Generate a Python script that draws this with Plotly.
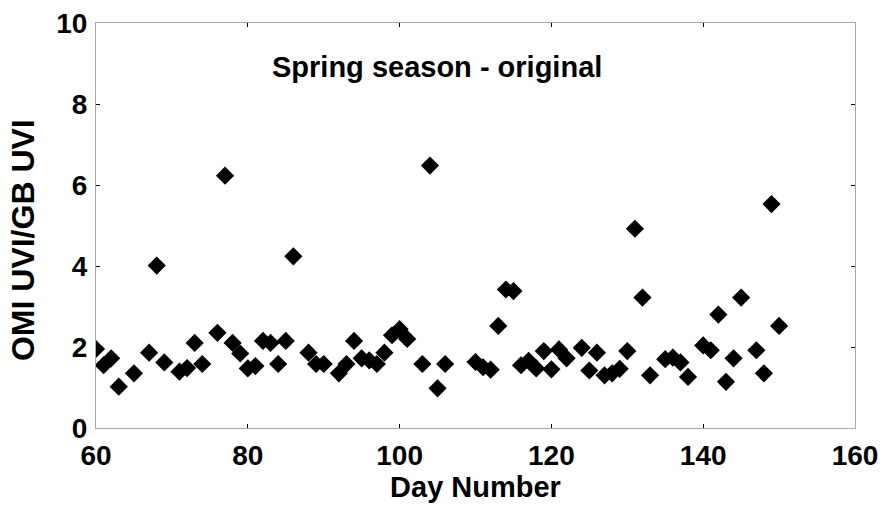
import plotly.graph_objects as go

days = [60, 61, 62, 63, 65, 67, 68, 69, 71, 72, 73, 74, 76, 77, 78, 79, 80, 81, 82, 83, 84, 85, 86,
        88, 89, 90, 92, 93, 94, 95, 96, 97, 98, 99, 100, 101, 103, 104, 105, 106,
        110, 111, 112, 113, 114, 115, 116, 117, 118, 119, 120, 121, 122, 124, 125, 126, 127, 128, 129, 130,
        131, 132, 133, 135, 136, 137, 138, 140, 141, 142, 143, 144, 145, 147, 148, 149, 150]
ratio = [1.95, 1.55, 1.72, 1.02, 1.35, 1.86, 4.01, 1.62, 1.39, 1.48, 2.1, 1.58, 2.35, 6.23, 2.1, 1.84,
         1.47, 1.53, 2.15, 2.1, 1.58, 2.15, 4.24,
         1.86, 1.58, 1.58, 1.35, 1.58, 2.15, 1.72, 1.67, 1.58, 1.86, 2.29, 2.44, 2.2, 1.58, 6.48, 0.98, 1.58,
         1.63, 1.5, 1.44, 2.52, 3.42, 3.38, 1.55, 1.66, 1.47, 1.9, 1.45, 1.94, 1.72, 1.98, 1.42, 1.86, 1.3,
         1.35, 1.46, 1.9,
         4.92, 3.22, 1.3, 1.7, 1.74, 1.62, 1.26, 2.04, 1.92, 2.8, 1.14, 1.72, 3.22, 1.92, 1.35, 5.53, 2.52]

x_ticks = [60, 80, 100, 120, 140, 160]
y_ticks = [0, 2, 4, 6, 8, 10]

FONT = "Liberation Sans, Arial, sans-serif"

fig = go.Figure()
fig.add_trace(go.Scatter(
    x=days, y=ratio, mode="markers",
    marker=dict(symbol="diamond", size=14, color="black", line=dict(width=0)),
    showlegend=False,
))

axis_common = dict(
    showgrid=False, zeroline=False, showline=True, linecolor="#a8a8a8", linewidth=1,
    mirror="ticks", ticks="inside", ticklen=4, tickcolor="black", tickwidth=1,
    tickfont=dict(family=FONT, size=28, color="black", weight="bold"),
    automargin=False,
)

fig.update_layout(
    width=882, height=506,
    margin=dict(l=96, r=27, t=23, b=78),
    paper_bgcolor="white", plot_bgcolor="white",
    xaxis=dict(range=[60, 160], tickvals=x_ticks, ticktext=[str(v) for v in x_ticks],
               ticklabelstandoff=2,
               title=dict(text="Day Number", font=dict(family=FONT, size=29, color="black", weight="bold"),
                          standoff=2),
               **axis_common),
    yaxis=dict(range=[0, 10], tickvals=y_ticks, ticktext=[str(v) for v in y_ticks],
               ticklabelstandoff=2, **axis_common),
    annotations=[
        dict(text="Spring season - original", xref="paper", yref="paper",
             x=0.449, y=0.891, xanchor="center", yanchor="middle", showarrow=False,
             font=dict(family=FONT, size=29, color="black", weight="bold")),
        dict(text="OMI UVI/GB UVI", xref="paper", yref="paper", textangle=-90,
             x=-0.097, y=0.465, xanchor="center", yanchor="middle", showarrow=False,
             font=dict(family=FONT, size=32, color="black", weight="bold")),
    ],
)

fig.write_html("out.html")
